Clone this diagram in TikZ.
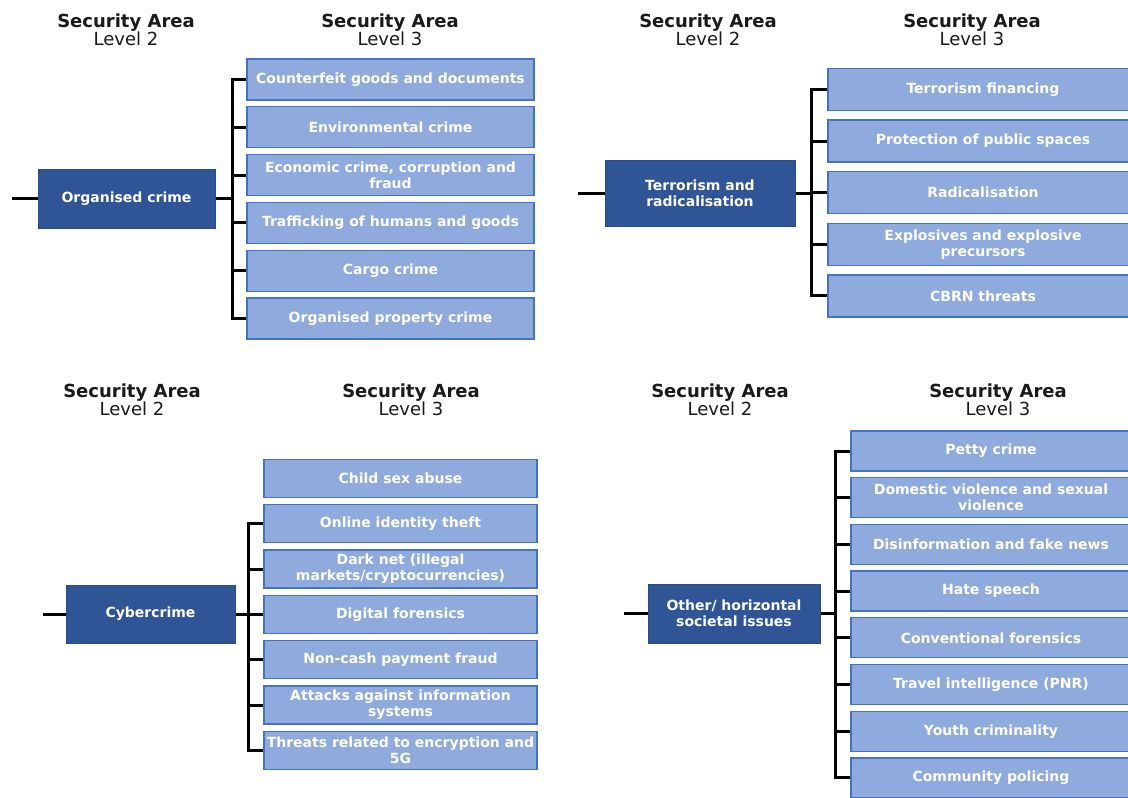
\documentclass[tikz,border=0pt]{standalone}
\usepackage{fontspec}
\setmainfont{DejaVu Sans}
\definecolor{darkbox}{HTML}{2F5597}
\definecolor{darkedge}{HTML}{284B86}
\definecolor{lightbox}{HTML}{8FAADC}
\definecolor{lightedge}{HTML}{4472C4}
\definecolor{headtext}{HTML}{1A1A1A}
\begin{document}
\begin{tikzpicture}[x=1pt,y=-1pt,
  hdr/.style={align=center, text=headtext, inner sep=0pt,
    font=\fontsize{18}{18.5}\selectfont},
  lvtwo/.style={draw=darkedge, fill=darkbox, line width=1pt, text=white,
    align=center, inner sep=0pt, font=\fontsize{14}{16}\selectfont\bfseries},
  lvthree/.style={draw=lightedge, fill=lightbox, line width=1.3pt, text=white,
    align=center, inner sep=0pt, font=\fontsize{14}{16}\selectfont\bfseries},
  conn/.style={draw=black, line width=3pt, line join=miter}]
\clip (0,0) rectangle (1128,798);
\fill[white] (0,0) rectangle (1128,798);

% ---------- Organised crime ----------
\node[hdr] (h1a) at (126,30) {\textbf{Security Area}\\Level 2};
\node[hdr] (h1b) at (390,30) {\textbf{Security Area}\\Level 3};
\node[lvtwo, minimum width=177, minimum height=59] (oc) at (126.5,198.5) {Organised crime};
\begin{scope}[every node/.style={lvthree, minimum width=287, minimum height=41}]
\node (oc1) at (390.5,79.5)  {Counterfeit goods and documents};
\node (oc2) at (390.5,127.3) {Environmental crime};
\node (oc3) at (390.5,175.1) {Economic crime, corruption and\\fraud};
\node (oc4) at (390.5,222.9) {Trafficking of humans and goods};
\node (oc5) at (390.5,270.7) {Cargo crime};
\node (oc6) at (390.5,318.5) {Organised property crime};
\end{scope}
\coordinate (ocin) at (12,198.5);
\coordinate (oct) at (232,198.5);
\draw[conn] (ocin) -- (oc.west);
\draw[conn] (oc.east) -- (oct);
\draw[conn] (oc1.west) -- (oc1.west -| oct) -- (oc6.west -| oct) -- (oc6.west);
\foreach \n in {oc2,oc3,oc4,oc5} \draw[conn] (\n.west -| oct) -- (\n.west);

% ---------- Terrorism and radicalisation ----------
\node[hdr] (h2a) at (708,30) {\textbf{Security Area}\\Level 2};
\node[hdr] (h2b) at (972,30) {\textbf{Security Area}\\Level 3};
\node[lvtwo, minimum width=190, minimum height=66] (tr) at (700,193) {Terrorism and\\radicalisation};
\begin{scope}[every node/.style={lvthree, minimum width=310, minimum height=42}]
\node (tr1) at (983,89.5)  {Terrorism financing};
\node (tr2) at (983,141.1) {Protection of public spaces};
\node (tr3) at (983,192.7) {Radicalisation};
\node (tr4) at (983,244.3) {Explosives and explosive\\precursors};
\node (tr5) at (983,295.9) {CBRN threats};
\end{scope}
\coordinate (trin) at (578,193);
\coordinate (trt) at (811,193);
\draw[conn] (trin) -- (tr.west);
\draw[conn] (tr.east) -- (trt);
\draw[conn] (tr1.west) -- (tr1.west -| trt) -- (tr5.west -| trt) -- (tr5.west);
\foreach \n in {tr2,tr3,tr4} \draw[conn] (\n.west -| trt) -- (\n.west);

% ---------- Cybercrime ----------
\node[hdr] (h3a) at (132,400) {\textbf{Security Area}\\Level 2};
\node[hdr] (h3b) at (411,400) {\textbf{Security Area}\\Level 3};
\node[lvtwo, minimum width=169, minimum height=58] (cc) at (150.5,614) {Cybercrime};
\begin{scope}[every node/.style={lvthree, minimum width=273, minimum height=38}]
\node (cc1) at (400.5,478.5) {Child sex abuse};
\node (cc2) at (400.5,523.8) {Online identity theft};
\node (cc3) at (400.5,569.1) {Dark net (illegal\\markets/cryptocurrencies)};
\node (cc4) at (400.5,614.4) {Digital forensics};
\node (cc5) at (400.5,659.7) {Non-cash payment fraud};
\node (cc6) at (400.5,705)   {Attacks against information\\systems};
\node (cc7) at (400.5,750.3) {Threats related to encryption and\\5G};
\end{scope}
\coordinate (ccin) at (43,614);
\coordinate (cct) at (248,614);
\draw[conn] (ccin) -- (cc.west);
\draw[conn] (cc.east) -- (cct);
\draw[conn] (cc2.west) -- (cc2.west -| cct) -- (cc7.west -| cct) -- (cc7.west);
\foreach \n in {cc3,cc4,cc5,cc6} \draw[conn] (\n.west -| cct) -- (\n.west);

% ---------- Other / horizontal societal issues ----------
\node[hdr] (h4a) at (720,400) {\textbf{Security Area}\\Level 2};
\node[hdr] (h4b) at (998,400) {\textbf{Security Area}\\Level 3};
\node[lvtwo, minimum width=172, minimum height=59] (os) at (734,613.5) {Other/ horizontal\\societal issues};
\begin{scope}[every node/.style={lvthree, minimum width=280, minimum height=40}]
\node (os1) at (991,451)   {Petty crime};
\node (os2) at (991,497.7) {Domestic violence and sexual\\violence};
\node (os3) at (991,544.4) {Disinformation and fake news};
\node (os4) at (991,591.1) {Hate speech};
\node (os5) at (991,637.8) {Conventional forensics};
\node (os6) at (991,684.5) {Travel intelligence (PNR)};
\node (os7) at (991,731.2) {Youth criminality};
\node (os8) at (991,777.9) {Community policing};
\end{scope}
\coordinate (osin) at (624,613.5);
\coordinate (ost) at (835,613.5);
\draw[conn] (osin) -- (os.west);
\draw[conn] (os.east) -- (ost);
\draw[conn] (os1.west) -- (os1.west -| ost) -- (os8.west -| ost) -- (os8.west);
\foreach \n in {os2,os3,os4,os5,os6,os7} \draw[conn] (\n.west -| ost) -- (\n.west);
\end{tikzpicture}
\end{document}
